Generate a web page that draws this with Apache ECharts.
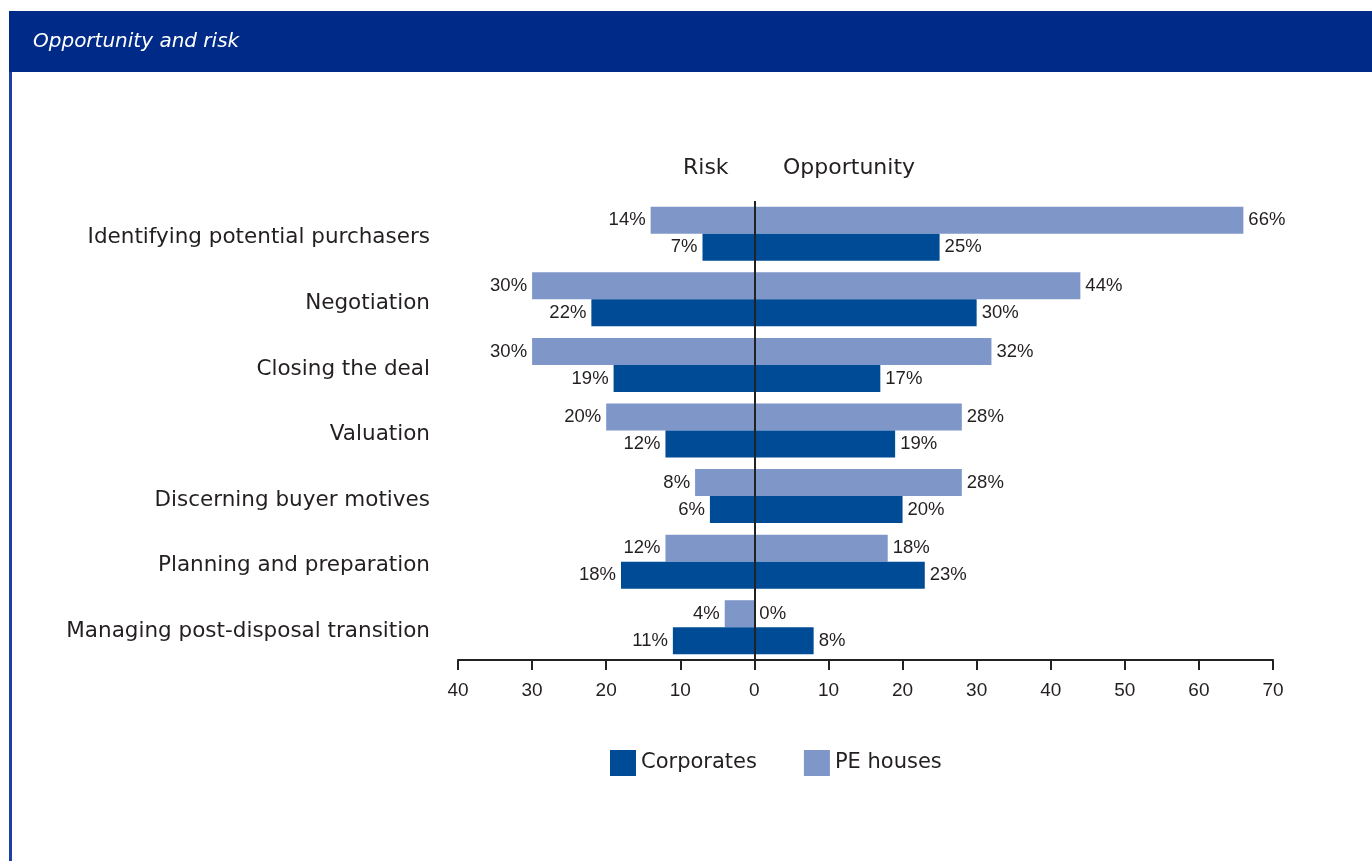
<!DOCTYPE html>
<html>
<head>
<meta charset="utf-8">
<script src="https://cdn.jsdelivr.net/npm/echarts@6/dist/echarts.min.js"></script>
<style>
	html, body { margin: 0; padding: 0; background: #fff; }
	#chart { width: 1372px; height: 861px; }
</style>
</head>
<body>
<div id="chart"></div>
<script>
var categories = ['Identifying potential purchasers', 'Negotiation', 'Closing the deal', 'Valuation',
	'Discerning buyer motives', 'Planning and preparation', 'Managing post-disposal transition'];
// risk is shown to the left of zero, opportunity to the right
var peRisk = [14, 30, 30, 20, 8, 12, 4];
var peOpportunity = [66, 44, 32, 28, 28, 18, 0];
var corpRisk = [7, 22, 19, 12, 6, 18, 11];
var corpOpportunity = [25, 30, 17, 19, 20, 23, 8];
var axisTicks = [-40, -30, -20, -10, 0, 10, 20, 30, 40, 50, 60, 70];

var textColor = '#231f20';
var darkBlue = '#004b96';
var lightBlue = '#7f96c8';
var wordFont = '"DejaVu Sans", sans-serif';
var numFont = '"Liberation Sans", Arial, sans-serif';

function negate(arr) {
	return arr.map(function (v) { return -v; });
}

function pctLabel(pos) {
	return {
		show : true,
		position : pos,
		distance : 5,
		color : textColor,
		fontSize : 18.5,
		fontFamily : numFont,
		formatter : function (p) { return Math.abs(p.value) + '%'; }
	};
}

function barSeries(name, stack, data, color, pos) {
	return {
		name : name,
		type : 'bar',
		stack : stack,
		data : data,
		barWidth : 27,
		barGap : '0%',
		itemStyle : { color : color },
		label : pctLabel(pos)
	};
}

var chart = echarts.init(document.getElementById('chart'));

// opportunity first in each stack so that a 0 value starts at zero, not at the risk bar end
var series = [
	barSeries('PE houses', 'pe', peOpportunity, lightBlue, 'right'),
	barSeries('PE houses', 'pe', negate(peRisk), lightBlue, 'left'),
	barSeries('Corporates', 'corp', corpOpportunity, darkBlue, 'right'),
	barSeries('Corporates', 'corp', negate(corpRisk), darkBlue, 'left')
];
series[3].markLine = {
	silent : true,
	symbol : 'none',
	label : { show : false },
	lineStyle : { color : '#222', width : 2, type : 'solid' },
	data : [ { xAxis : 0 } ]
};

var option = {
	animation : false,
	graphic : [
		{ type : 'rect', shape : { x : 9, y : 11, width : 1363, height : 61 }, style : { fill : '#002a87' } },
		{ type : 'rect', shape : { x : 9, y : 72, width : 3, height : 789 }, style : { fill : '#1d3ea3' } },
		{ type : 'text', left : 33, top : 32, style : { text : 'Opportunity and risk', fill : '#fff', font : 'italic 20px ' + wordFont } },
		{ type : 'text', left : 683, top : 157, style : { text : 'Risk', fill : textColor, font : '22px ' + wordFont } },
		{ type : 'text', left : 783, top : 157, style : { text : 'Opportunity', fill : textColor, font : '22px ' + wordFont } }
	],
	legend : {
		data : ['Corporates', 'PE houses'],
		left : 605,
		top : 745,
		itemWidth : 26,
		itemHeight : 26,
		itemGap : 47,
		icon : 'rect',
		textStyle : { fontSize : 21, color : textColor, fontFamily : wordFont }
	},
	grid : { left : 458, right : 99, top : 201, bottom : 201 },
	xAxis : {
		type : 'value',
		min : axisTicks[0],
		max : axisTicks[axisTicks.length - 1],
		interval : 10,
		axisLine : { show : true, onZero : false, lineStyle : { color : '#222', width : 2 } },
		axisTick : { show : true, length : 10, lineStyle : { color : '#222', width : 2 } },
		axisLabel : {
			color : textColor, fontSize : 19, margin : 21, fontFamily : numFont,
			formatter : function (v) { return Math.abs(v); }
		},
		splitLine : { show : false }
	},
	yAxis : {
		type : 'category',
		data : categories,
		inverse : true,
		axisLine : { show : false },
		axisTick : { show : false },
		axisLabel : {
			color : textColor, fontSize : 21.5, margin : 28, fontFamily : wordFont,
			verticalAlign : 'top', lineHeight : 8
		}
	},
	series : series
};
chart.setOption(option);
</script>
</body>
</html>
